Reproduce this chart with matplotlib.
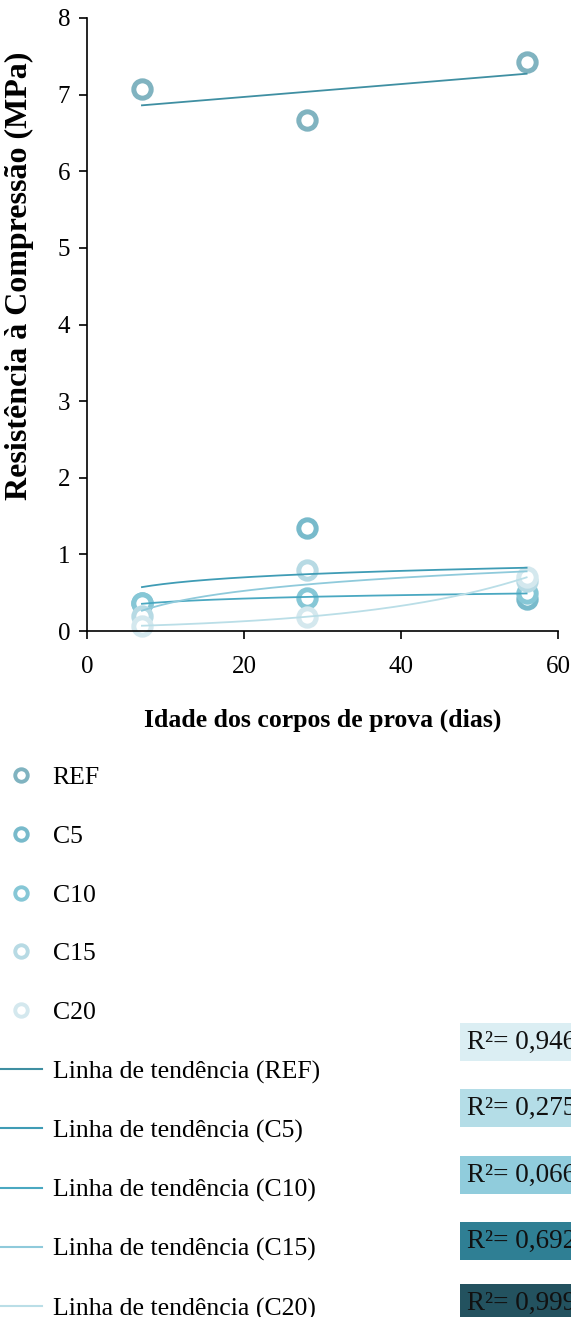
import numpy as np
import matplotlib
matplotlib.use('Agg')
import matplotlib.pyplot as plt
from matplotlib.lines import Line2D

plt.rcParams['font.family'] = ['Liberation Serif', 'DejaVu Serif']

# idade dos corpos de prova (dias) e resistencia (MPa) de cada traco
idade = [7, 28, 56]
ref = [7.07, 6.67, 7.43]
c5 = [0.37, 1.35, 0.42]
c10 = [0.36, 0.43, 0.50]
c15 = [0.20, 0.80, 0.65]
c20 = [0.07, 0.18, 0.71]

series = ['REF', 'C5', 'C10', 'C15', 'C20']
tipo_tendencia = ['linear', 'log', 'log', 'log', 'exp']
r2_textos = ['0,946', '0,275', '0,066', '0,692', '0,999']

cor_ponto = ['#80b3c0', '#78bacb', '#86c7d6', '#b7dae4', '#d4e8ee']
cor_linha = ['#3f8fa2', '#3f9cb5', '#4aa8c1', '#8fcadb', '#badee7']
cor_caixa = ['#dbeef3', '#b4dde7', '#90ccdc', '#2f7f94', '#23525f']

dados = [ref, c5, c10, c15, c20]


def tendencia(x, y, tipo, xs):
    x = np.asarray(x, float)
    y = np.asarray(y, float)
    if tipo == 'linear':
        b, a = np.polyfit(x, y, 1)
        return a + b * xs
    if tipo == 'log':
        b, a = np.polyfit(np.log(x), y, 1)
        return a + b * np.log(xs)
    b, a = np.polyfit(x, np.log(y), 1)
    return np.exp(a + b * xs)


fig = plt.figure(figsize=(5.71, 13.17), dpi=100)
ax = fig.add_axes([87 / 571, 1 - 631 / 1317, (558 - 87) / 571, (631 - 18) / 1317])

xs = np.linspace(idade[0], idade[-1], 200)
for i in range(len(series)):
    ax.plot(idade, dados[i], 'o', ms=12.5, mfc='white', mec=cor_ponto[i], mew=3.6,
            zorder=2, clip_on=False)
for i in range(len(series)):
    ax.plot(xs, tendencia(idade, dados[i], tipo_tendencia[i], xs),
            color=cor_linha[i], lw=1.3, zorder=3)

ax.set_xlim(0, 60)
ax.set_ylim(0, 8)
ax.set_xticks([0, 20, 40, 60])
ax.set_yticks(range(0, 9))
ax.spines['top'].set_visible(False)
ax.spines['right'].set_visible(False)
ax.spines['left'].set_linewidth(1.2)
ax.spines['bottom'].set_linewidth(1.2)
ax.tick_params(direction='out', length=6, width=1.2, labelsize=18)
ax.tick_params(axis='x', pad=12)
ax.tick_params(axis='y', pad=6)

ax.set_xlabel('Idade dos corpos de prova (dias)', fontsize=18.5, fontweight='bold', labelpad=22)
ax.set_ylabel('Resistência à Compressão (MPa)', fontsize=23, fontweight='bold')
ax.yaxis.set_label_coords(-0.113, 0.579)

# legenda: pontos e linhas de tendencia
handles = []
labels = []
for i in range(len(series)):
    handles.append(Line2D([], [], ls='none', marker='o', ms=9, mfc='white',
                          mec=cor_ponto[i], mew=2.8))
    labels.append(series[i])
for i in range(len(series)):
    handles.append(Line2D([], [], color=cor_linha[i], lw=1.5))
    labels.append('Linha de tendência (' + series[i] + ')')

fig.legend(handles, labels, loc='upper left', bbox_to_anchor=(0, 1 - 766 / 1317),
           frameon=False, borderpad=0, borderaxespad=0, fontsize=18.5,
           handlelength=1.65, handletextpad=0.4, labelspacing=1.395)

# caixas com os valores de R2
r2_y = [1042, 1108, 1175, 1241, 1303]
for i in range(len(series)):
    fig.text(467 / 571, 1 - r2_y[i] / 1317, 'R²= ' + r2_textos[i], fontsize=19.5,
             va='center', ha='left', color='#111111',
             bbox=dict(boxstyle='square,pad=0.25', fc=cor_caixa[i], ec='none'))

fig.savefig('out.png', dpi=100)
